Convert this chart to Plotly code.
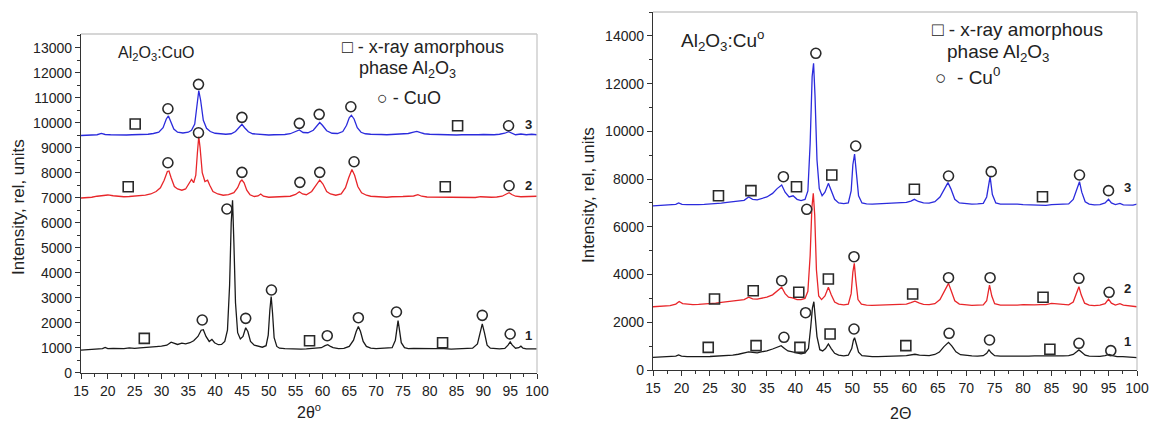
import plotly.graph_objects as go

# ---------------- data: left panel (Al2O3:CuO) ----------------
left_c1 = [(15,900),(16,920),(17,930),(18,960),(19,960),(19.5,1010),(20,960),(21,970),(22,950),(23,960),(24,990),(25,970),(26,990),(27,1000),(28,1020),(29,1040),(30,1060),(31,1100),(31.8,1220),(32.3,1180),(33,1130),(33.8,1180),(34.5,1150),(35.3,1200),(36,1280),(36.8,1450),(37.4,1700),(37.8,1720),(38.3,1450),(38.9,1250),(39.4,1330),(39.9,1200),(40.6,1120),(41.2,1130),(41.8,1250),(42.3,1700),(42.7,3500),(43.0,6000),(43.25,6900),(43.5,5200),(43.8,2800),(44.2,1600),(44.7,1350),(45.2,1450),(45.7,1800),(46.1,1650),(46.6,1250),(47.3,1100),(48,1050),(48.8,1020),(49.5,1080),(49.9,1500),(50.2,2500),(50.45,3050),(50.7,2400),(51,1400),(51.5,1050),(52,980),(53,960),(54,950),(55,960),(56,940),(57,950),(58,960),(59,970),(59.8,1000),(60.5,1080),(61,1120),(61.5,1050),(62,1000),(63,960),(64,970),(65,1050),(65.8,1300),(66.3,1650),(66.7,1850),(67.1,1650),(67.6,1250),(68.2,1050),(69,980),(70,960),(71,970),(72,960),(73,1000),(73.6,1300),(73.9,1900),(74.1,2080),(74.3,1800),(74.7,1200),(75.3,1000),(76,960),(77,970),(78,960),(79,980),(80,950),(81,960),(82,970),(83,950),(84,940),(85,950),(86,960),(87,950),(88,980),(88.9,1150),(89.4,1600),(89.8,1950),(90.2,1600),(90.7,1100),(91.3,980),(92,960),(93,950),(94,970),(94.6,1100),(95,1230),(95.4,1100),(96,980),(96.6,1000),(97,1060),(97.4,980),(98,950),(99,960),(100,950)]

left_c2 = [(15,6990),(16,7000),(17,7020),(18,7060),(19,7100),(20,7110),(21,7080),(22,7050),(23,7040),(24,7050),(25,7060),(26,7080),(27,7100),(28,7150),(29,7250),(29.8,7400),(30.5,7700),(31.1,8050),(31.4,8070),(31.8,7800),(32.4,7450),(33,7350),(33.8,7300),(34.5,7350),(35.2,7600),(35.6,7730),(36,7600),(36.4,7900),(36.7,8800),(36.95,9450),(37.2,9000),(37.6,8000),(38.1,7650),(38.6,7700),(39,7500),(39.6,7250),(40.5,7150),(41.5,7100),(42.5,7120),(43.5,7200),(44.2,7400),(44.7,7650),(45,7710),(45.4,7600),(45.9,7300),(46.5,7120),(47.3,7050),(48,7070),(48.5,7150),(49,7060),(50,7020),(51,7030),(52,7020),(53,7040),(54,7060),(55,7130),(55.7,7240),(56.3,7150),(57,7120),(58,7250),(58.8,7500),(59.5,7710),(60.1,7550),(60.8,7250),(61.5,7150),(62.5,7100),(63.5,7150),(64.3,7400),(64.9,7800),(65.5,8130),(66,7900),(66.6,7450),(67.3,7200),(68.2,7100),(69,7060),(70,7040),(71,7050),(72,7020),(73,7040),(74,7060),(75,7050),(76,7060),(77,7070),(77.8,7120),(78.5,7060),(79.5,7030),(80.5,7030),(81.5,7020),(82.5,7010),(83.5,7000),(84.5,7020),(85.5,7010),(86.5,7030),(87.5,7010),(88.5,7010),(89.5,7040),(90.5,7020),(91.5,7020),(92.5,7030),(93.5,7060),(94.3,7150),(94.8,7200),(95.3,7130),(96,7060),(97,7040),(98,7050),(99,7040),(100,7060)]

left_c3 = [(15,9490),(16,9500),(17,9510),(18,9520),(18.8,9570),(19.5,9530),(20.5,9520),(21.5,9510),(22.5,9500),(23.5,9510),(24.5,9520),(25.5,9520),(26.5,9530),(27.5,9540),(28.5,9570),(29.5,9620),(30.3,9800),(30.9,10150),(31.3,10270),(31.7,10050),(32.3,9750),(33,9620),(34,9590),(35,9620),(35.6,9700),(36.2,9950),(36.6,10700),(36.95,11280),(37.3,10900),(37.8,10100),(38.4,9780),(39.1,9650),(40,9580),(41,9550),(42,9540),(43,9560),(43.8,9650),(44.5,9820),(45,9935),(45.5,9800),(46.2,9640),(47,9560),(48,9540),(49,9520),(50,9510),(51,9520),(52,9520),(53,9530),(54,9560),(55,9640),(55.7,9710),(56.4,9610),(57.3,9600),(58.3,9700),(59,9900),(59.5,10010),(60,9900),(60.8,9680),(61.8,9580),(62.8,9570),(63.8,9650),(64.5,9900),(65,10200),(65.4,10300),(65.9,10150),(66.5,9800),(67.2,9620),(68,9560),(69,9540),(70,9520),(71,9530),(72,9520),(73,9530),(74,9540),(75,9550),(76,9570),(77,9620),(77.6,9650),(78.3,9600),(79,9560),(80,9540),(81,9530),(82,9540),(83,9520),(84,9520),(85,9510),(86,9520),(87,9510),(88,9530),(89,9520),(90,9530),(91,9520),(92,9520),(93,9540),(94,9580),(94.7,9640),(95.4,9560),(96,9520),(97,9550),(98,9520),(99,9540),(100,9520)]

# peak markers, left panel
left_circ = [(37.6,2108),(42.2,6548),(45.7,2175),(50.5,3308),(60.9,1480),(66.7,2200),(73.8,2428),(89.8,2295),(95.0,1548),
             (31.2,8400),(36.9,9600),(45.0,8015),(55.8,7615),(59.5,8015),(65.9,8440),(94.8,7480),
             (31.2,10560),(36.9,11535),(45.0,10215),(55.7,9975),(59.4,10335),(65.3,10640),(94.7,9880)]
left_sq = [(26.8,1375),(57.6,1280),(82.4,1200),(23.8,7440),(82.9,7440),(25.1,9948),(85.2,9880)]
left_labels = [("1",98.5,1500),("2",98.5,7490),("3",98.5,9920)]

# ---------------- data: right panel (Al2O3:Cu0) ----------------
right_c1 = [(15,530),(16,540),(17,545),(18,560),(19,580),(19.5,630),(20,580),(21,560),(22,550),(23,555),(24,560),(25,565),(26,575),(27,590),(28,600),(29,620),(30,660),(31,700),(31.8,760),(32.5,740),(33.3,720),(34,760),(35,800),(36,880),(36.8,950),(37.5,1020),(38.1,900),(38.7,800),(39.5,760),(40.3,700),(41,680),(41.7,720),(42.3,900),(42.7,1800),(43.0,2600),(43.25,2860),(43.5,2300),(43.8,1400),(44.3,850),(44.8,800),(45.3,900),(45.8,1090),(46.3,900),(46.9,700),(47.6,620),(48.5,590),(49.3,620),(49.9,900),(50.2,1250),(50.4,1350),(50.7,1100),(51.1,750),(51.7,600),(52.5,570),(53.5,560),(54.5,560),(55.5,560),(56.5,570),(57.5,580),(58.5,590),(59.5,600),(60.2,640),(61,660),(61.8,620),(62.5,600),(63.5,600),(64.5,650),(65.3,750),(66.1,980),(66.9,1160),(67.5,1000),(68.2,760),(69,640),(70,600),(71,590),(72,580),(73,600),(73.6,700),(74,840),(74.4,720),(75,600),(76,580),(77,575),(78,580),(79,590),(80,590),(81,580),(82,590),(83,585),(84,580),(85,580),(86,600),(87,590),(88,600),(88.8,650),(89.4,760),(89.8,840),(90.3,740),(90.9,620),(91.6,580),(92.5,570),(93.5,575),(94.4,600),(95.1,650),(95.7,600),(96.5,560),(97.5,560),(98.5,540),(99.3,545),(100,520)]

right_c2 = [(15,2650),(16,2660),(17,2680),(18,2700),(19,2760),(19.6,2870),(20.2,2780),(21,2750),(22,2740),(23,2750),(24,2760),(25,2780),(26,2800),(27,2830),(28,2860),(29,2890),(30,2930),(31,2950),(31.8,3050),(32.5,2980),(33.3,2970),(34,3000),(35,3050),(36,3150),(36.8,3300),(37.6,3470),(38.2,3200),(38.8,3050),(39.5,3020),(40.3,2950),(41,2950),(41.7,3000),(42.2,3300),(42.6,4800),(42.9,6800),(43.15,7400),(43.4,6500),(43.7,4200),(44.1,3100),(44.6,2950),(45.2,3100),(45.8,3470),(46.3,3150),(46.9,2850),(47.6,2760),(48.5,2730),(49.3,2760),(49.8,3200),(50.1,4100),(50.35,4470),(50.6,3800),(51,2950),(51.6,2760),(52.5,2720),(53.5,2710),(54.5,2720),(55.5,2720),(56.5,2720),(57.5,2730),(58.5,2740),(59.5,2760),(60.3,2820),(61,2880),(61.8,2800),(62.5,2750),(63.5,2740),(64.5,2780),(65.4,2950),(66.2,3300),(66.9,3630),(67.4,3300),(68,2900),(68.8,2760),(70,2720),(71,2710),(72,2720),(73,2730),(73.6,2900),(74.1,3560),(74.5,3100),(75,2780),(76,2720),(77,2710),(78,2730),(79,2720),(80,2740),(81,2720),(82,2730),(83,2740),(84,2740),(85,2790),(86,2760),(87,2730),(88,2730),(88.8,2850),(89.4,3200),(89.8,3490),(90.2,3150),(90.8,2800),(91.6,2720),(92.5,2700),(93.5,2720),(94.4,2780),(95,2970),(95.5,2800),(96.2,2720),(97,2780),(97.6,2720),(98.5,2690),(99.3,2680),(100,2650)]

right_c3 = [(15,6880),(16,6890),(17,6900),(18,6910),(19,6940),(19.5,7000),(20.1,6940),(21,6930),(22,6920),(23,6930),(24,6940),(25,6950),(26,6970),(27,6990),(28,7020),(29,7050),(30,7090),(31,7110),(31.8,7250),(32.5,7150),(33.3,7130),(34,7170),(35,7250),(36,7400),(36.8,7600),(37.6,7750),(38.2,7450),(38.9,7250),(39.6,7300),(40.3,7150),(41,7100),(41.7,7150),(42.2,7500),(42.6,9500),(42.95,12300),(43.2,12850),(43.45,11500),(43.8,8800),(44.2,7600),(44.7,7300),(45.2,7450),(45.8,7820),(46.3,7500),(46.9,7150),(47.6,7000),(48.5,6970),(49.3,7000),(49.8,7500),(50.1,8600),(50.4,9050),(50.7,8300),(51.1,7300),(51.7,7000),(52.5,6960),(53.5,6950),(54.5,6960),(55.5,6950),(56.5,6960),(57.5,6970),(58.5,6990),(59.5,7020),(60.3,7080),(60.9,7150),(61.6,7060),(62.5,7000),(63.5,6990),(64.5,7050),(65.4,7250),(66.2,7600),(66.8,7850),(67.3,7600),(68,7150),(68.8,7000),(70,6960),(71,6950),(72,6960),(73,6980),(73.6,7250),(74.2,8100),(74.6,7350),(75.2,7000),(76,6950),(77,6960),(78,6970),(79,6950),(80,6930),(81,6920),(82,6930),(83,6910),(84,6900),(85,6930),(86,6950),(87,6940),(88,6960),(88.8,7150),(89.4,7600),(89.9,7890),(90.3,7450),(90.9,7050),(91.6,6950),(92.5,6920),(93.5,6930),(94.4,7000),(95,7150),(95.5,7000),(96.2,6930),(97,6980),(97.6,6920),(98.5,6900),(99.3,6910),(100,6950)]

right_circ = [(38.0,1370),(41.8,2400),(50.3,1718),(67.0,1537),(74.1,1257),(89.8,1118),(95.4,810),
              (37.6,3742),(42.0,6733),(50.3,4748),(66.9,3868),(74.2,3868),(89.8,3842),(95.1,3256),
              (37.9,8100),(43.6,13270),(50.6,9385),(66.9,8128),(74.4,8310),(89.9,8170),(95.0,7514)]
right_sq = [(24.7,950),(33.1,1020),(40.8,950),(46.1,1508),(59.4,1020),(84.7,867),
            (25.8,2975),(32.6,3323),(40.6,3256),(45.8,3813),(60.6,3184),(83.5,3046),
            (26.5,7303),(32.2,7514),(40.2,7680),(46.4,8170),(60.9,7571),(83.4,7262)]
right_labels = [("1",98.4,1180),("2",98.4,3420),("3",98.4,7650)]

# ---------------- figure ----------------
W, H = 1149, 425
BLACK, RED, BLUE = "#1a1a1a", "#e8262a", "#2b2bdc"
MK = "#2a2a2a"
FONT = "Liberation Sans, Arial, sans-serif"

def xs(p): return [a for a, b in p]
def ys(p): return [b for a, b in p]

fig = go.Figure()
for curve, col, ax in [(left_c1, BLACK, 1), (left_c2, RED, 1), (left_c3, BLUE, 1),
                       (right_c1, BLACK, 2), (right_c2, RED, 2), (right_c3, BLUE, 2)]:
    fig.add_trace(go.Scatter(x=xs(curve), y=ys(curve), mode="lines",
                             line=dict(color=col, width=1.3),
                             xaxis="x" if ax == 1 else "x2", yaxis="y" if ax == 1 else "y2",
                             showlegend=False, hoverinfo="skip"))
for pts, sym, ax in [(left_circ, "circle-open", 1), (left_sq, "square-open", 1),
                     (right_circ, "circle-open", 2), (right_sq, "square-open", 2)]:
    fig.add_trace(go.Scatter(x=xs(pts), y=ys(pts), mode="markers",
                             marker=dict(symbol=sym, size=10, color=MK, line=dict(width=1.6, color=MK)),
                             xaxis="x" if ax == 1 else "x2", yaxis="y" if ax == 1 else "y2",
                             showlegend=False, hoverinfo="skip"))

def px2x(p): return p / W
def px2y(p): return 1 - p / H

tickfont = dict(family=FONT, size=14, color="#222")
xcommon = dict(range=[15, 100], dtick=5, tick0=15, ticks="outside", ticklen=5, tickwidth=1.2,
               tickcolor="#333", showline=True, linecolor="#333", linewidth=1.3, showgrid=False,
               zeroline=False, tickfont=tickfont, automargin=False, tickformat="d",
               minor=dict(dtick=2.5, ticks="outside", ticklen=3, tickcolor="#333", tickwidth=1))
ycommon = dict(ticks="outside", ticklen=5, tickwidth=1.2, tickcolor="#333", showline=True,
               linecolor="#333", linewidth=1.3, showgrid=False, zeroline=False, tickfont=tickfont,
               automargin=False, tickformat="d")

L = (81, 537, 34, 372.7)
R = (653, 1137, 12, 370)
fig.update_layout(
    width=W, height=H, margin=dict(l=0, r=0, t=0, b=0),
    paper_bgcolor="white", plot_bgcolor="white",
    xaxis=dict(domain=[px2x(L[0]), px2x(L[1])], anchor="y", **xcommon),
    yaxis=dict(domain=[px2y(L[3]), px2y(L[2])], anchor="x", range=[0, 13550], dtick=1000, tick0=0,
               minor=dict(dtick=500, ticks="outside", ticklen=3, tickcolor="#333", tickwidth=1),
               **ycommon),
    xaxis2=dict(domain=[px2x(R[0]), px2x(R[1])], anchor="y2", **xcommon),
    yaxis2=dict(domain=[px2y(R[3]), px2y(R[2])], anchor="x2", range=[0, 15000], dtick=2000, tick0=0,
                minor=dict(dtick=1000, ticks="outside", ticklen=3, tickcolor="#333", tickwidth=1),
                **ycommon),
    showlegend=False,
)

# light frame on top/right of each panel
shapes = []
for (x0, x1, y0, y1) in [L, R]:
    shapes.append(dict(type="line", xref="paper", yref="paper", x0=px2x(x0), x1=px2x(x1),
                       y0=px2y(y0), y1=px2y(y0), line=dict(color="#c8c8c8", width=1.3)))
    shapes.append(dict(type="line", xref="paper", yref="paper", x0=px2x(x1), x1=px2x(x1),
                       y0=px2y(y0), y1=px2y(y1), line=dict(color="#c8c8c8", width=1.3)))
fig.update_layout(shapes=shapes)

ann = []
def txt(text, x, y, size, xanchor="left", angle=0, bold=False, color="#222"):
    ann.append(dict(text=("<b>%s</b>" % text) if bold else text, xref="paper", yref="paper",
                    x=px2x(x), y=px2y(y), xanchor=xanchor, yanchor="middle", showarrow=False,
                    textangle=angle, font=dict(family=FONT, size=size, color=color)))

# titles inside panels
txt("Al<sub>2</sub>O<sub>3</sub>:CuO", 116, 53, 16)
txt("Al<sub>2</sub>O<sub>3</sub>:Cu<sup>o</sup>", 679, 40, 19)
# legends
txt("□ - x-ray amorphous", 340, 47, 18)
txt("phase Al<sub>2</sub>O<sub>3</sub>", 357, 70, 18)
txt("○ - CuO", 375, 98, 18)
txt("□ - x-ray amorphous", 930, 29, 19)
txt("phase Al<sub>2</sub>O<sub>3</sub>", 945, 53, 19)
txt("○  - Cu<sup>0</sup>", 933, 76, 19)
# axis titles
txt("Intensity, rel, units", 18, 207, 17, xanchor="center", angle=-90)
txt("Intensity, rel, units", 589, 195, 17, xanchor="center", angle=-90)
txt("2θ<sup>o</sup>", 309, 411, 16, xanchor="center")
txt("2Θ", 900, 413, 16, xanchor="center")

for lab, x, y in left_labels:
    ann.append(dict(text="<b>%s</b>" % lab, xref="x", yref="y", x=x, y=y, showarrow=False,
                    xanchor="center", yanchor="middle", font=dict(family=FONT, size=13, color="#222")))
for lab, x, y in right_labels:
    ann.append(dict(text="<b>%s</b>" % lab, xref="x2", yref="y2", x=x, y=y, showarrow=False,
                    xanchor="center", yanchor="middle", font=dict(family=FONT, size=13, color="#222")))
fig.update_layout(annotations=ann)

fig.write_html("out.html")
